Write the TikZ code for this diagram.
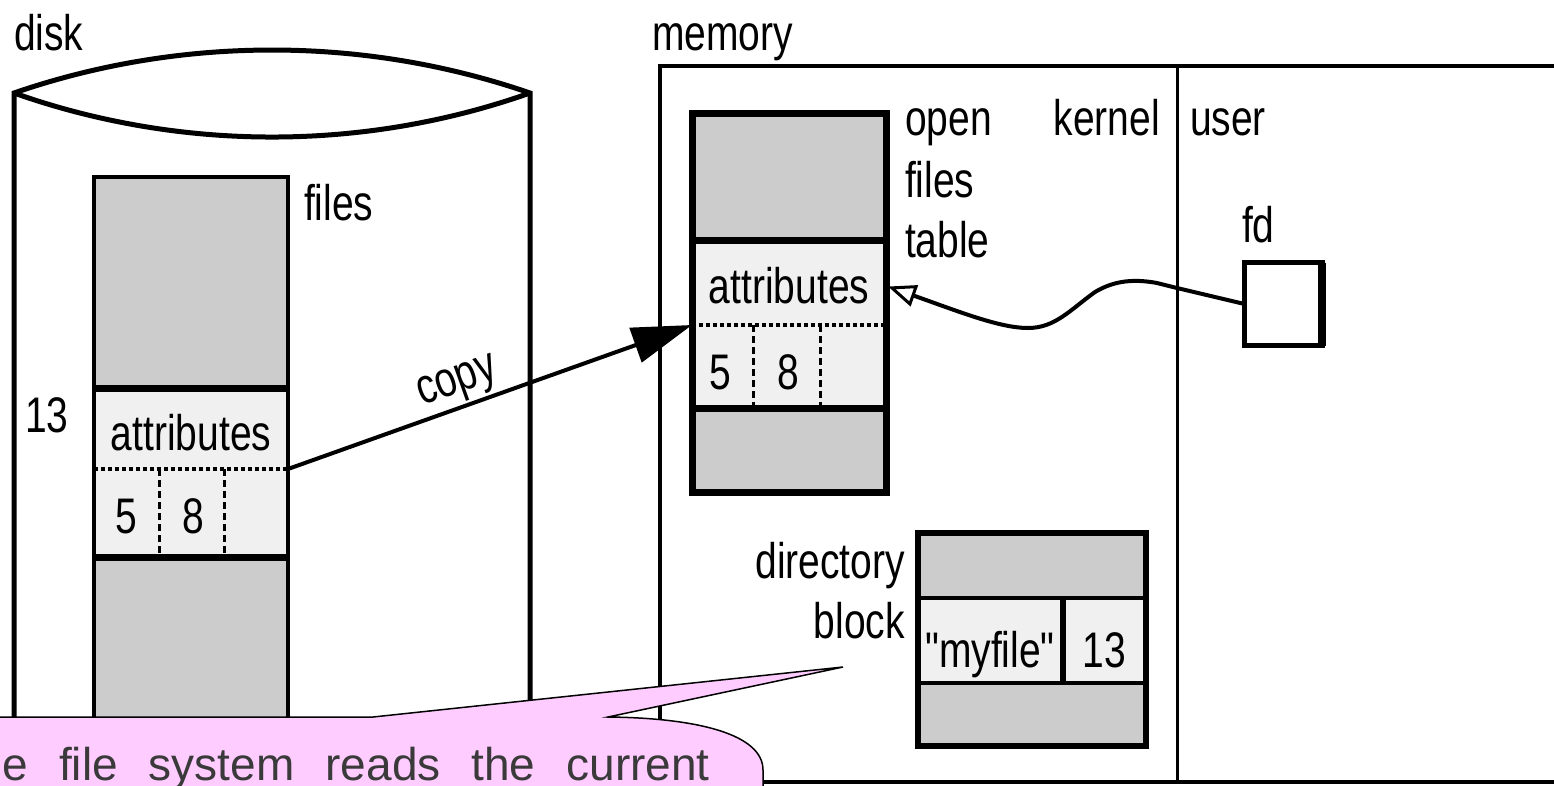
\documentclass[tikz,border=0pt]{standalone}
\usepackage{fontspec}
\setmainfont{Liberation Sans}
\newfontfamily\lblfont{Liberation Sans}[FakeStretch=0.78]
\usetikzlibrary{arrows.meta,calc}
\definecolor{cellgray}{HTML}{CCCCCC}
\definecolor{celllite}{HTML}{F0F0F0}
\definecolor{notepink}{HTML}{FFCCFF}
\definecolor{notetext}{HTML}{3A3A3A}

\begin{document}
\begin{tikzpicture}[x=1pt,y=-1pt,
  lbl/.style={font=\lblfont\fontsize{50}{54}\selectfont, inner sep=0pt, outer sep=0pt},
  cell/.style={draw=none, inner sep=0pt, outer sep=0pt, anchor=north west},
  graycell/.style={cell, fill=cellgray},
  litecell/.style={cell, fill=celllite},
  sepline/.style={line width=7pt},
  dotline/.style={line width=4pt, dash pattern=on 4pt off 3pt},
  vdotline/.style={line width=3pt, dash pattern=on 7pt off 4pt},
  outline/.style={line width=4pt},
  boxline/.style={line width=7pt}]
\useasboundingbox (0,0) rectangle (1554,785);

% ---------- disk ----------
\draw[line width=5pt] (14,800) -- (14,93) .. controls (180,35.7) and (364,35.7) .. (530,93) -- (530,800);
\draw[line width=5pt] (14,93) .. controls (180,151.7) and (364,151.7) .. (530,93);
\node[lbl, anchor=base west] (disklbl) at (14,50) {disk};

% file column on the disk
\node[graycell, minimum width=194pt, minimum height=211pt] (dtop) at (94,177) {};
\node[litecell, minimum width=194pt, minimum height=81pt] (dattr) at (94,388) {};
\node[litecell, minimum width=194pt, minimum height=88pt] (dnums) at (94,469) {};
\node[graycell, minimum width=194pt, minimum height=243pt] (dbot) at (94,557) {};
\draw[dotline] (dattr.south west) -- (dattr.south east);
\draw[vdotline] ($(dnums.north west)+(65,0)$) -- ($(dnums.south west)+(65,0)$);
\draw[vdotline] ($(dnums.north west)+(130,0)$) -- ($(dnums.south west)+(130,0)$);
\draw[sepline] (dtop.south west) -- (dtop.south east);
\draw[sepline] (dnums.south west) -- (dnums.south east);
\draw[outline] (dtop.north west) rectangle (dbot.south east);
\node[lbl, anchor=base west] (dfiles) at (304,220) {files};
\node[lbl, anchor=base west] (dnum13) at (25,432) {13};
\node[lbl, anchor=base] (dattrtxt) at (191,450) {attributes};
\node[lbl, anchor=base] (dfive) at (126,533) {5};
\node[lbl, anchor=base] (deight) at (193,533) {8};

% ---------- memory ----------
\draw[line width=4pt] (1600,66) -- (660,66) -- (660,782) -- (1600,782);
\draw[line width=3pt] (1177,66) -- (1177,782);
\node[lbl, anchor=base west] (memlbl) at (652,50) {memory};
\node[lbl, anchor=base west] (openlbl) at (905,135) {open};
\node[lbl, anchor=base west] (fileslbl) at (905,197) {files};
\node[lbl, anchor=base west] (tablelbl) at (905,257) {table};
\node[lbl, anchor=base east] (kernellbl) at (1160,135) {kernel};
\node[lbl, anchor=base west] (userlbl) at (1190,135) {user};
\node[lbl, anchor=base west] (fdlbl) at (1242,242) {fd};

% open files table
\node[graycell, minimum width=194pt, minimum height=127pt] (ttop) at (692,113) {};
\node[litecell, minimum width=194pt, minimum height=85pt] (tattr) at (692,240) {};
\node[litecell, minimum width=194pt, minimum height=83pt] (tnums) at (692,325) {};
\node[graycell, minimum width=194pt, minimum height=84pt] (tbot) at (692,408) {};
\draw[dotline] (tattr.south west) -- (tattr.south east);
\draw[vdotline] ($(tnums.north west)+(61,0)$) -- ($(tnums.south west)+(61,0)$);
\draw[vdotline] ($(tnums.north west)+(128,0)$) -- ($(tnums.south west)+(128,0)$);
\draw[sepline] (ttop.south west) -- (ttop.south east);
\draw[sepline] (tnums.south west) -- (tnums.south east);
\draw[boxline] (ttop.north west) rectangle (tbot.south east);
\node[lbl, anchor=base] (tattrtxt) at (789,303) {attributes};
\node[lbl, anchor=base] (tfive) at (720,389) {5};
\node[lbl, anchor=base] (teight) at (788,389) {8};

% file descriptor
\node[cell, draw, line width=5pt, minimum width=77.5pt, minimum height=83pt] (fd) at (1244.5,262.5) {};
\draw[line width=8pt] (fd.north east) -- (fd.south east);

% directory block
\node[graycell, minimum width=228pt, minimum height=65pt] (dirtop) at (918,533) {};
\node[litecell, minimum width=145pt, minimum height=85pt] (dirname) at (918,598) {};
\node[litecell, minimum width=83pt, minimum height=85pt] (dirnum) at (1063,598) {};
\node[graycell, minimum width=228pt, minimum height=63pt] (dirbot) at (918,683) {};
\draw[line width=4pt] (dirtop.south west) -- (dirtop.south east);
\draw[line width=4pt] (dirbot.north west) -- (dirbot.north east);
\draw[line width=6pt] (dirnum.north west) -- (dirnum.south west);
\draw[line width=6pt] (dirtop.north west) rectangle (dirbot.south east);
\node[lbl, anchor=base] (dirnametxt) at (990,667) {"myfile"};
\node[lbl, anchor=base] (dirnumtxt) at (1104,667) {13};
\node[lbl, anchor=base east] (dirlbl) at (905,578) {directory};
\node[lbl, anchor=base east] (blocklbl) at (905,638) {block};

% ---------- connectors ----------
\draw[line width=4pt, -{Triangle[length=60pt,width=36pt]}]
  (dattr.south east) -- (tattr.south west)
  node[lbl, pos=0.44, sloped, above=4pt] (copylbl) {copy};

\coordinate (fdtip) at ($(tattr.east)+(2,4)$);
\draw[line width=4pt, -{Triangle[open,length=28pt,width=22pt,line width=3pt]}]
  (fd.west) -- (1177,288) -- (1157,283)
  .. controls (1135,279) and (1115,280) .. (1095,292)
  .. controls (1070,310) and (1055,328) .. (1028,328)
  .. controls (1000,328) and (960,312) .. (fdtip);

% ---------- note ----------
\coordinate (notetip) at (843,667);
\draw[fill=notepink, line width=1.5pt]
  (-10,717) -- (373,717) -- (notetip) -- (608,717)
  .. controls (700,718) and (763,735) .. (763,770) -- (763,800) -- (-10,800) -- cycle;
\node[anchor=base east, inner sep=0pt, text=notetext, font=\fontsize{46}{50}\selectfont] (note)
  at (710,780) {\spaceskip=31pt The file system reads the current};
\end{tikzpicture}
\end{document}
